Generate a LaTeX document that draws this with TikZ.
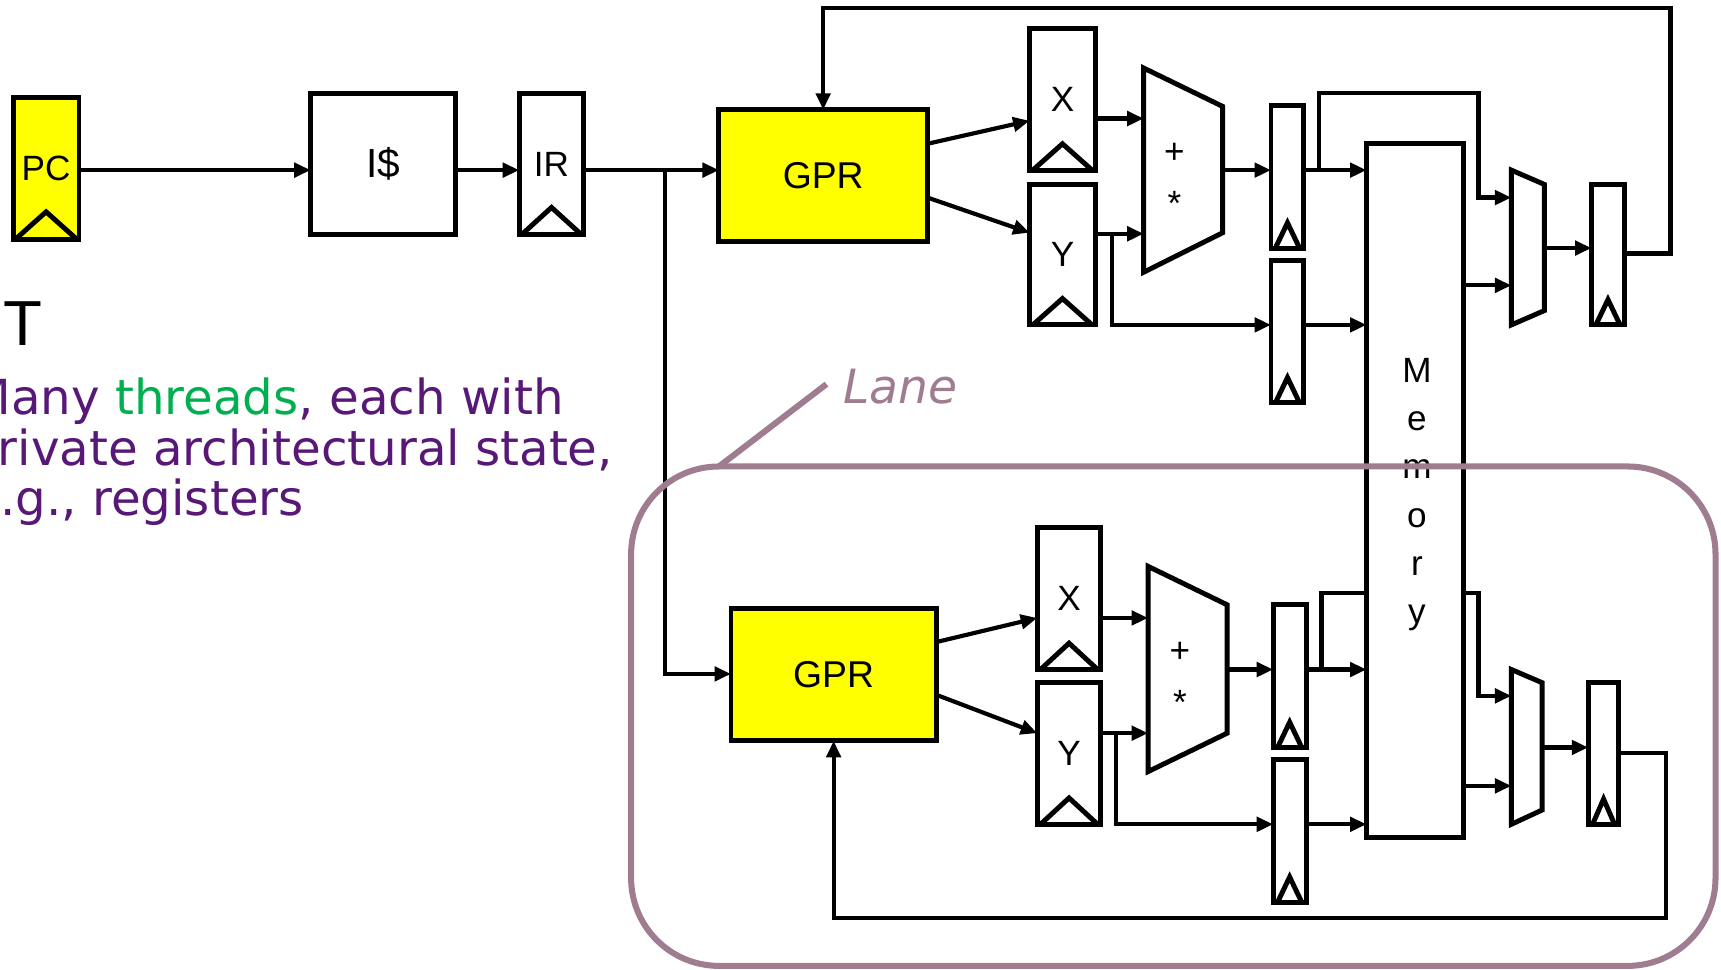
\documentclass[tikz,border=0pt]{standalone}
\usepackage{fontspec}
\setmainfont{Liberation Sans}
\newfontfamily\vfont{DejaVu Sans}
\usetikzlibrary{arrows.meta}
\definecolor{lanec}{RGB}{160,124,145}
\definecolor{purp}{RGB}{88,24,120}
\definecolor{grn}{RGB}{0,176,80}
\definecolor{yel}{RGB}{255,255,0}
\begin{document}
\begin{tikzpicture}[x=1pt,y=-1pt,
  reg/.style={draw, line width=4.5pt, fill=white, inner sep=0pt, outer sep=0pt,
    font=\fontsize{32}{32}\selectfont},
  ghost/.style={inner sep=0pt, outer sep=0pt},
  shp/.style={draw, line width=4.5pt, line join=miter, fill=white},
  clk/.style={draw, line width=4.5pt, line join=miter},
  wire/.style={line width=3.8pt, line join=miter},
  arr/.style={wire, -{Triangle[length=15pt,width=13pt]}},
  lbl/.style={inner sep=0pt, font=\fontsize{32}{32}\selectfont},
  side/.style={inner sep=0pt, anchor=base west, text=purp,
    font=\vfont\fontsize{44}{46}\selectfont},
]
\useasboundingbox (0,0) rectangle (1568,883);

% ---------- top pipeline ----------
\node[reg, fill=yel, minimum width=60pt, minimum height=129pt] (pc) at (42,153.5) {PC};
\node[reg, minimum width=132pt, minimum height=129pt, font=\fontsize{37}{37}\selectfont] (is) at (349,149.5) {I\$};
\node[reg, minimum width=59pt, minimum height=129pt] (ir) at (502.5,149.5) {IR};
\node[reg, fill=yel, minimum width=190pt, minimum height=120pt, font=\fontsize{34}{34}\selectfont] (gpr1) at (750,160) {GPR};
\node[reg, minimum width=60pt, minimum height=129pt] (x1) at (968,90.5) {X};
\node[reg, minimum width=60pt, minimum height=128pt] (y1) at (968,232) {Y};
\node[ghost, minimum width=72pt, minimum height=186pt] (alu1) at (1078,155) {};
\node[reg, minimum width=30pt, minimum height=130pt] (p1) at (1173,161) {};
\node[reg, minimum width=30pt, minimum height=130pt] (p2) at (1173,302) {};
\node[ghost, minimum width=30pt, minimum height=141pt] (mux1) at (1392,225.5) {};
\node[reg, minimum width=30pt, minimum height=128pt] (f1) at (1465,232) {};

% ---------- lower pipeline ----------
\node[reg, fill=yel, minimum width=187pt, minimum height=121pt, font=\fontsize{34}{34}\selectfont] (gpr2) at (759.5,614.5) {GPR};
\node[reg, minimum width=58pt, minimum height=129pt] (x2) at (974,545.5) {X};
\node[reg, minimum width=58pt, minimum height=129pt] (y2) at (974,686.5) {Y};
\node[ghost, minimum width=72pt, minimum height=187pt] (alu2) at (1082,609.5) {};
\node[reg, minimum width=30pt, minimum height=130pt] (p3) at (1175,616) {};
\node[reg, minimum width=30pt, minimum height=130pt] (p4) at (1175,757) {};
\node[ghost, minimum width=28pt, minimum height=141pt] (mux2) at (1391,680.5) {};
\node[reg, minimum width=28pt, minimum height=129pt] (f2) at (1461,686.5) {};

% memory
\node[reg, minimum width=88pt, minimum height=632pt] (mem) at (1289,447) {};
\node[inner sep=0pt, anchor=north, align=center, font=\fontsize{32}{44}\selectfont] (memtxt) at (1291,326) {M\\e\\m\\o\\r\\y};

% ALUs and muxes
\draw[shp] (alu1.north west) -- ([yshift=-35pt]alu1.north east) -- ([yshift=36pt]alu1.south east) -- (alu1.south west) -- cycle;
\draw[shp] (alu2.north west) -- ([yshift=-35pt]alu2.north east) -- ([yshift=35pt]alu2.south east) -- (alu2.south west) -- cycle;
\draw[shp] (mux1.north west) -- ([yshift=-13pt]mux1.north east) -- ([yshift=13pt]mux1.south east) -- (mux1.south west) -- cycle;
\draw[shp] (mux2.north west) -- ([yshift=-12pt]mux2.north east) -- ([yshift=13pt]mux2.south east) -- (mux2.south west) -- cycle;
\node[lbl] (plus1) at (1070,140) {+};
\node[lbl] (star1) at (1070,185) {*};
\node[lbl] (plus2) at (1075,594) {+};
\node[lbl] (star2) at (1075,640) {*};

% clock marks
\draw[clk] ([xshift=2pt]pc.south west) -- ([yshift=25pt]pc.south) -- ([xshift=-2pt]pc.south east);
\draw[clk] ([xshift=2pt]ir.south west) -- ([yshift=25pt]ir.south) -- ([xshift=-2pt]ir.south east);
\foreach \r in {x1,y1,x2,y2}
  \draw[clk] ([xshift=3pt]\r.south west) -- ([yshift=24pt]\r.south) -- ([xshift=-3pt]\r.south east);
\foreach \r in {p1,p2,p3,p4,f1,f2}
  \draw[clk] ([xshift=4pt]\r.south west) -- ([yshift=23pt]\r.south) -- ([xshift=-4pt]\r.south east);

% ---------- wires, top ----------
\coordinate (br1) at (606,155);
\coordinate (br2) at (1013,213);
\coordinate (br3) at (1202,155);
\coordinate (m1) at (1347,85);
\coordinate (loopA) at (1522,7);
\draw[arr] (pc.east |- 0,155) -- (is.west |- 0,155);
\draw[arr] (is.east |- 0,155) -- (ir.west |- 0,155);
\draw[arr] (ir.east |- 0,155) -- (gpr1.west |- 0,155);
\draw[arr] (br1) |- (gpr2.west |- 0,614);
\draw[arr] (gpr1.east |- 0,131) -- (x1.west |- 0,110);
\draw[arr] (gpr1.east |- 0,180) -- (y1.west |- 0,212);
\draw[arr] (x1.east |- 0,108) -- (alu1.west |- 0,108);
\draw[arr] (y1.east |- 0,213) -- (alu1.west |- 0,213);
\draw[arr] (br2) |- (p2.west |- 0,296);
\draw[arr] (alu1.east |- 0,155) -- (p1.west |- 0,155);
\draw[arr] (p1.east |- 0,155) -- (mem.west |- 0,155);
\draw[arr] (br3) |- (m1) |- (mux1.west |- 0,180);
\draw[arr] (p2.east |- 0,296) -- (mem.west |- 0,296);
\draw[arr] (mem.east |- 0,260) -- (mux1.west |- 0,260);
\draw[arr] (mux1.east |- 0,226) -- (f1.west |- 0,226);
\draw[arr] (f1.east |- 0,231) -| (loopA) -| (gpr1.north);

% ---------- wires, lower ----------
\coordinate (br4) at (1017,668);
\coordinate (br5) at (1204,610);
\coordinate (m2) at (1347,540);
\coordinate (loopB) at (1518,836);
\draw[arr] (gpr2.east |- 0,585) -- (x2.west |- 0,563);
\draw[arr] (gpr2.east |- 0,633) -- (y2.west |- 0,668);
\draw[arr] (x2.east |- 0,563) -- (alu2.west |- 0,563);
\draw[arr] (y2.east |- 0,668) -- (alu2.west |- 0,668);
\draw[arr] (br4) |- (p4.west |- 0,751);
\draw[arr] (alu2.east |- 0,610) -- (p3.west |- 0,610);
\draw[arr] (p3.east |- 0,610) -- (mem.west |- 0,610);
\draw[wire] (br5) |- (mem.west |- 0,540);
\draw[arr] (mem.east |- 0,540) -- (m2) |- (mux2.west |- 0,634);
\draw[arr] (p4.east |- 0,751) -- (mem.west |- 0,751);
\draw[arr] (mem.east |- 0,716) -- (mux2.west |- 0,716);
\draw[arr] (mux2.east |- 0,681) -- (f2.west |- 0,681);
\draw[arr] (f2.east |- 0,686) -| (loopB) -| (gpr2.south);

% ---------- side text ----------
\node[inner sep=0pt, anchor=base west, font=\fontsize{58}{58}\selectfont] (tt) at (3,315) {T};
\node[side] (l1) at (-28,378) {Many \textcolor{grn}{threads}, each with};
\node[side] (l2) at (-30,424) {private architectural state,};
\node[side] (l3) at (-27,470) {e.g., registers};

% ---------- lane ----------
\draw[lanec, line width=5.5pt, rounded corners=80pt] (575,425) rectangle (1563,880);
\coordinate (lc) at (655,425);
\node[inner sep=0pt, anchor=base west, text=lanec, font=\vfont\itshape\fontsize{43}{43}\selectfont] (lane) at (768,368) {Lane};
\draw[lanec, line width=5.5pt] (lc) -- (753,350);
\end{tikzpicture}
\end{document}
